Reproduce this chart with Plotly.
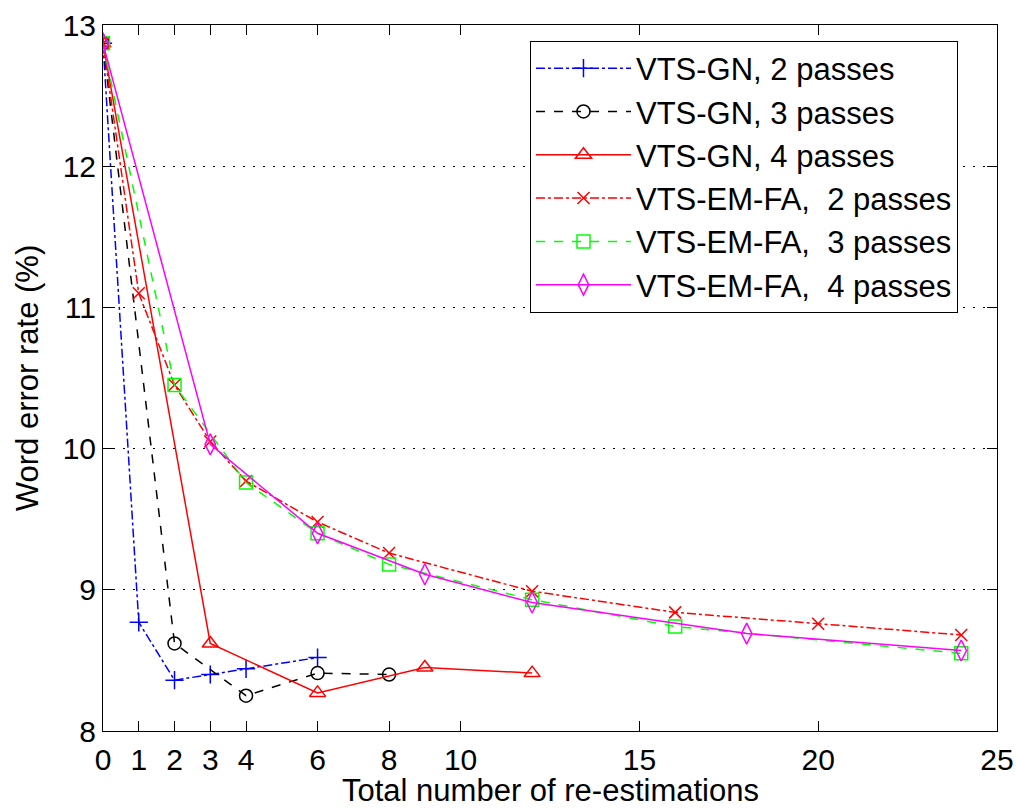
import plotly.graph_objects as go

FONT = "Liberation Sans, Arial, sans-serif"

# data
gn2_x = [0, 1, 2, 3, 4, 6]
gn2_y = [12.87, 8.77, 8.36, 8.40, 8.44, 8.52]

gn3_x = [0, 2, 4, 6, 8]
gn3_y = [12.87, 8.62, 8.25, 8.41, 8.40]

gn4_x = [0, 3, 6, 9, 12]
gn4_y = [12.87, 8.62, 8.27, 8.45, 8.41]

em2_x = [0, 1, 2, 3, 4, 6, 8, 12, 16, 20, 24]
em2_y = [12.87, 11.10, 10.45, 10.05, 9.77, 9.48, 9.26, 8.99, 8.84, 8.76, 8.68]

em3_x = [0, 2, 4, 6, 8, 12, 16, 24]
em3_y = [12.87, 10.45, 9.76, 9.40, 9.18, 8.93, 8.74, 8.55]

em4_x = [0, 3, 6, 9, 12, 18, 24]
em4_y = [12.87, 10.03, 9.40, 9.11, 8.91, 8.69, 8.57]

names = ["VTS-GN, 2 passes", "VTS-GN, 3 passes", "VTS-GN, 4 passes",
         "VTS-EM-FA,\u00a0 2 passes", "VTS-EM-FA,\u00a0 3 passes", "VTS-EM-FA,\u00a0 4 passes"]

x_ticks = [0, 1, 2, 3, 4, 6, 8, 10, 15, 20, 25]
y_ticks = [8, 9, 10, 11, 12, 13]

x_title = "Total number of re-estimations"
y_title = "Word error rate (%)"

series = [
    (gn2_x, gn2_y, "#0000FF", "dashdot", "cross-thin-open", 13),
    (gn3_x, gn3_y, "#000000", "dash", "circle-open", 13),
    (gn4_x, gn4_y, "#FF0000", "solid", "triangle-up-open", 14),
    (em2_x, em2_y, "#FF0000", "dashdot", "x-thin-open", 12),
    (em3_x, em3_y, "#00FF00", "dash", "square-open", 13),
    (em4_x, em4_y, "#FF00FF", "solid", "diamond-tall-open", 15),
]

fig = go.Figure()
for (xs, ys, col, dash, sym, sz), nm in zip(series, names):
    fig.add_trace(go.Scatter(
        x=xs, y=ys, name=nm, mode="lines+markers",
        line=dict(color=col, dash=dash, width=1.5),
        marker=dict(symbol=sym, size=sz, color=col, line=dict(color=col, width=1.5)),
    ))

fig.add_annotation(
    text=x_title, xref="paper", yref="paper", x=0.5, y=0,
    xanchor="center", yanchor="bottom", yshift=-78, showarrow=False,
    font=dict(family=FONT, size=31, color="black"), borderpad=0,
)

fig.update_layout(
    width=1016, height=809,
    margin=dict(l=103, r=19, t=25, b=78, autoexpand=False),
    paper_bgcolor="white", plot_bgcolor="white",
    font=dict(family=FONT, size=30, color="black"),
    showlegend=True,
    legend=dict(
        x=0.4776, y=0.978, xanchor="left", yanchor="top",
        bordercolor="black", borderwidth=1, bgcolor="white",
        font=dict(family=FONT, size=31, color="black"),
        itemwidth=95, tracegroupgap=0,
        entrywidth=375, entrywidthmode="pixels",
    ),
    xaxis=dict(
        range=[0, 25], tickvals=x_ticks, ticktext=[str(v) for v in x_ticks],
        ticks="inside", ticklen=10, tickcolor="black", tickwidth=1,
        showline=True, linecolor="black", linewidth=1, mirror="ticks",
        showgrid=False, zeroline=False, automargin=False,
        tickfont=dict(family=FONT, size=30), ticklabelstandoff=2,
    ),
    yaxis=dict(
        range=[8, 13], tickvals=y_ticks, ticktext=[str(v) for v in y_ticks],
        ticks="inside", ticklen=10, tickcolor="black", tickwidth=1,
        showline=True, linecolor="black", linewidth=1, mirror="ticks",
        showgrid=True, gridcolor="black", griddash="2px,8px", gridwidth=1,
        zeroline=False, automargin=False,
        tickfont=dict(family=FONT, size=30),
        title=dict(text=y_title, font=dict(family=FONT, size=31), standoff=14),
    ),
)

fig.write_html("out.html")
